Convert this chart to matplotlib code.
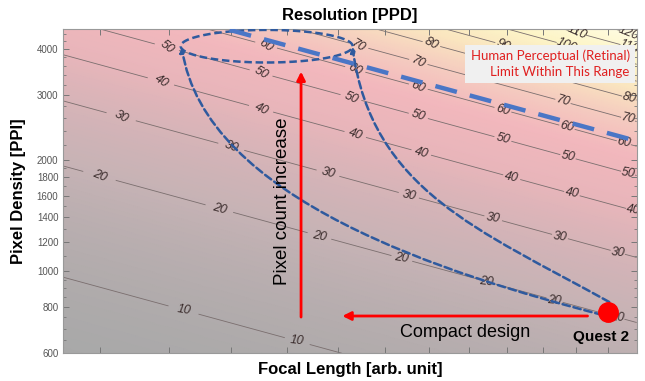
import numpy as np
import matplotlib.pyplot as plt
from matplotlib.colors import LinearSegmentedColormap
from matplotlib.path import Path
from matplotlib.patches import FancyArrowPatch
from matplotlib.ticker import FixedLocator, NullFormatter

plt.rcParams['font.family'] = ['Liberation Sans', 'DejaVu Sans']

# axis ranges (focal length in arb. units, pixel density in PPI)
f_lim = (7.52, 19.95)
ppi_lim = (600, 4520)
ppd_scale = 725.0  # PPD ~ focal * PPI / ppd_scale

levels = [10, 20, 30, 40, 50, 60, 70, 80, 90, 100, 110, 120]
# focal lengths where each contour gets its label
label_f = {
    10: [9.23, 11.20],
    20: [8.00, 9.81, 11.63, 13.38, 15.46, 17.35, 19.3],
    30: [8.30, 10.01, 11.80, 13.54, 15.63, 17.51, 19.32],
    40: [8.88, 10.53, 12.36, 13.83, 16.13, 17.87, 19.83],
    50: [8.97, 10.53, 12.27, 13.76, 15.89, 17.75, 19.66],
    60: [10.62, 12.36, 13.76, 15.89, 17.72, 19.52],
    70: [12.43, 13.76, 17.60, 19.66],
    80: [14.07, 19.69],
    90: [15.9],
    100: [17.7],
    110: [18.03, 19.69],
    120: [19.69],
}

ppi_ticks = [600, 800, 1000, 1200, 1400, 1600, 1800, 2000, 3000, 4000]
f_ticks = list(range(8, 20))

quest2 = (19.0, 775)
retina_ppd = 62
retina_f = (9.98, 19.8)

# cone drawn on the plot (focal, PPI)
ellipse_center = (10.63, 4068)
ellipse_halfwidth = (0.1463, 0.1016)  # in ln units
lower_curve = [(18.82, 762), (14.51, 978), (9.56, 1560), (9.20, 4051)]
upper_curve = [(19.04, 826), (15.27, 1294), (12.71, 1661), (12.30, 4051)]

vert_arrow = [(11.27, 752), (11.27, 3472)]
horiz_arrow = [(18.35, 757), (12.09, 757)]

# background colours along PPD
cmap = LinearSegmentedColormap.from_list('ppd', [
    (0.00, (0.66, 0.66, 0.66)),
    (0.12, (0.78, 0.70, 0.71)),
    (0.29, (0.91, 0.71, 0.73)),
    (0.42, (0.95, 0.72, 0.74)),
    (0.54, (0.96, 0.80, 0.75)),
    (0.67, (0.98, 0.90, 0.75)),
    (0.80, (0.99, 0.96, 0.78)),
    (1.00, (1.00, 0.99, 0.90)),
])

fig = plt.figure(figsize=(6.45, 3.81), dpi=100)
ax = fig.add_axes([0.0981, 0.0727, 0.889, 0.8504])

F, P = np.meshgrid(np.geomspace(*f_lim, 300), np.geomspace(*ppi_lim, 300))
PPD = F * P / ppd_scale

ax.pcolormesh(F, P, PPD, cmap=cmap, vmin=6, vmax=125, shading='gouraud', zorder=0)
cs = ax.contour(F, P, PPD, levels=levels, colors='#7a6e6e', linewidths=0.6, zorder=1)

positions = [(f, lv * ppd_scale / f) for lv in levels for f in label_f[lv]]
labels = ax.clabel(cs, levels, manual=positions, inline=True, inline_spacing=4,
                   fmt='%d', fontsize=9, colors='#3a2c2c')
for t in labels:
    t.set_fontstyle('italic')

ax.set_xscale('log')
ax.set_yscale('log')
ax.set_xlim(*f_lim)
ax.set_ylim(*ppi_lim)

# ticks
ax.xaxis.set_major_locator(FixedLocator(f_ticks))
ax.xaxis.set_major_formatter(NullFormatter())
ax.xaxis.set_minor_locator(FixedLocator([]))
ax.xaxis.set_minor_formatter(NullFormatter())
ax.yaxis.set_major_locator(FixedLocator(ppi_ticks))
ax.set_yticklabels([str(v) for v in ppi_ticks])
minor_y = list(range(650, 1000, 50)) + list(range(1100, 2000, 100)) + list(range(2200, 4600, 200))
ax.yaxis.set_minor_locator(FixedLocator([v for v in minor_y if v not in ppi_ticks]))
ax.yaxis.set_minor_formatter(NullFormatter())
ax.tick_params(which='both', direction='in', top=True, right=True, color='#777777')
ax.tick_params(which='major', length=4, width=0.7, labelsize=7, labelcolor='#555555')
ax.tick_params(which='minor', length=2.5, width=0.6)
for s in ax.spines.values():
    s.set_color('#999999')
    s.set_linewidth(0.8)

ax.set_title('Resolution [PPD]', fontsize=12, fontweight='bold', pad=7)
ax.set_xlabel('Focal Length [arb. unit]', fontsize=12, fontweight='bold', labelpad=3)
ax.set_ylabel('Pixel Density [PPI]', fontsize=12, fontweight='bold', labelpad=8)

blue = '#2f5a9e'
# ellipse at the top of the cone
th = np.linspace(0, 2 * np.pi, 200)
ex = ellipse_center[0] * np.exp(ellipse_halfwidth[0] * np.cos(th))
ey = ellipse_center[1] * np.exp(ellipse_halfwidth[1] * np.sin(th))
ax.plot(ex, ey, color=blue, lw=1.8, ls=(0, (3, 1.5)), zorder=3)

codes = [Path.MOVETO, Path.CURVE4, Path.CURVE4, Path.CURVE4]
for pts in (lower_curve, upper_curve):
    arr = FancyArrowPatch(path=Path(pts, codes), arrowstyle='-|>,head_length=3,head_width=1.6',
                          color=blue, lw=1.8, ls=(0, (3, 1.5)), zorder=3)
    ax.add_patch(arr)

# retinal limit line
rf = np.geomspace(*retina_f, 50)
ax.plot(rf, retina_ppd * ppd_scale / rf, color='#4a76c6', lw=3.2, ls=(0, (5, 3)), zorder=3)

# red arrows
for a, b in (vert_arrow, horiz_arrow):
    ax.annotate('', xy=b, xytext=a,
                arrowprops=dict(arrowstyle='-|>,head_length=0.5,head_width=0.25',
                                color='red', lw=2, shrinkA=0, shrinkB=0, mutation_scale=10),
                zorder=4)

ax.plot(*quest2, marker='o', ms=14, color='red', zorder=5)

ax.text(0.383, 0.47, 'Pixel count increase', transform=ax.transAxes, rotation=90,
        ha='center', va='center', fontsize=13.5, zorder=5)
ax.text(0.70, 0.063, 'Compact design', transform=ax.transAxes,
        ha='center', va='center', fontsize=13, zorder=5)
ax.text(0.987, 0.05, 'Quest 2', transform=ax.transAxes,
        ha='right', va='center', fontsize=11, fontweight='bold', zorder=5)
ax.text(0.988, 0.893, 'Human Perceptual (Retinal)\nLimit Within This Range',
        transform=ax.transAxes, ha='right', va='center', fontsize=9.5, color='#e02020',
        family=['Lato', 'DejaVu Sans'], linespacing=1.35, zorder=6,
        bbox=dict(boxstyle='square,pad=0.4', fc='#f0f0f0', ec='none'))

fig.savefig('out.png', dpi=100)
